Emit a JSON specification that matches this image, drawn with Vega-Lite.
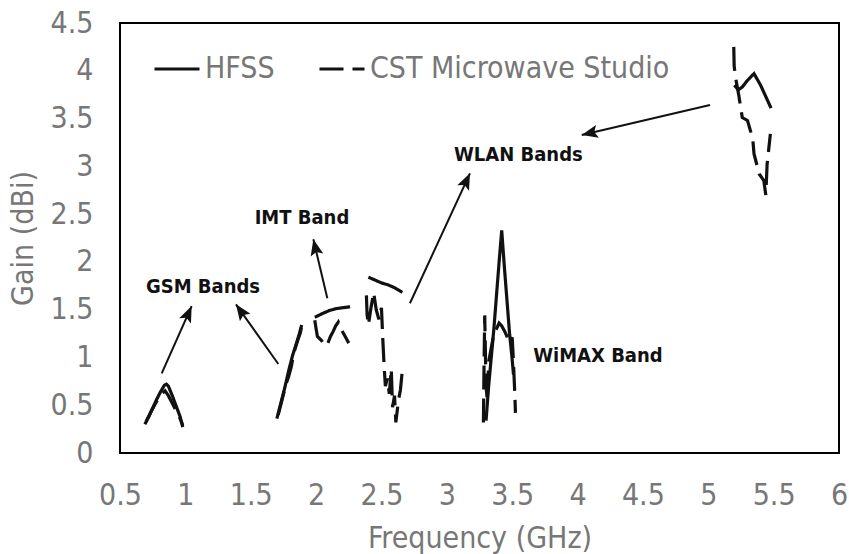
{
  "$schema": "https://vega.github.io/schema/vega-lite/v6.json",
  "width": 719,
  "height": 430,
  "autosize": {"type": "none"},
  "padding": {"left": 120, "top": 23, "right": 10, "bottom": 101},
  "background": "white",
  "config": {
    "view": {"stroke": "black", "strokeWidth": 2},
    "font": "DejaVu Sans",
    "axis": {
      "grid": false, "domain": false, "ticks": false,
      "labelFont": "DejaVu Sans Condensed, DejaVu Sans", "labelFontSize": 30, "labelColor": "#777777",
      "titleFont": "DejaVu Sans Condensed, DejaVu Sans", "titleFontSize": 30, "titleColor": "#777777", "titleFontWeight": "normal",
      "labelFlush": false, "labelOverlap": false, "labelBound": false
    },
    "legend": {
      "labelFont": "DejaVu Sans Condensed, DejaVu Sans", "labelFontSize": 30, "labelColor": "#777777", "labelLimit": 0
    }
  },
  "datasets": {
    "curves": [
      {"series":"HFSS","band":1,"freq":0.69,"gain":0.30},{"series":"HFSS","band":1,"freq":0.72,"gain":0.38},{"series":"HFSS","band":1,"freq":0.75,"gain":0.47},{"series":"HFSS","band":1,"freq":0.78,"gain":0.56},{"series":"HFSS","band":1,"freq":0.81,"gain":0.64},{"series":"HFSS","band":1,"freq":0.84,"gain":0.71},{"series":"HFSS","band":1,"freq":0.855,"gain":0.72},{"series":"HFSS","band":1,"freq":0.87,"gain":0.70},{"series":"HFSS","band":1,"freq":0.90,"gain":0.60},{"series":"HFSS","band":1,"freq":0.93,"gain":0.49},{"series":"HFSS","band":1,"freq":0.96,"gain":0.38},{"series":"HFSS","band":1,"freq":0.98,"gain":0.27},
      {"series":"HFSS","band":2,"freq":1.70,"gain":0.36},{"series":"HFSS","band":2,"freq":1.73,"gain":0.52},{"series":"HFSS","band":2,"freq":1.76,"gain":0.68},{"series":"HFSS","band":2,"freq":1.79,"gain":0.86},{"series":"HFSS","band":2,"freq":1.82,"gain":1.02},{"series":"HFSS","band":2,"freq":1.85,"gain":1.15},{"series":"HFSS","band":2,"freq":1.87,"gain":1.24},{"series":"HFSS","band":2,"freq":1.89,"gain":1.34},
      {"series":"HFSS","band":3,"freq":1.99,"gain":1.42},{"series":"HFSS","band":3,"freq":2.05,"gain":1.46},{"series":"HFSS","band":3,"freq":2.10,"gain":1.49},{"series":"HFSS","band":3,"freq":2.15,"gain":1.51},{"series":"HFSS","band":3,"freq":2.20,"gain":1.52},{"series":"HFSS","band":3,"freq":2.26,"gain":1.53},
      {"series":"HFSS","band":4,"freq":2.40,"gain":1.84},{"series":"HFSS","band":4,"freq":2.45,"gain":1.81},{"series":"HFSS","band":4,"freq":2.50,"gain":1.78},{"series":"HFSS","band":4,"freq":2.55,"gain":1.76},{"series":"HFSS","band":4,"freq":2.60,"gain":1.73},{"series":"HFSS","band":4,"freq":2.66,"gain":1.68},
      {"series":"HFSS","band":5,"freq":3.30,"gain":0.34},{"series":"HFSS","band":5,"freq":3.32,"gain":0.70},{"series":"HFSS","band":5,"freq":3.34,"gain":1.00},{"series":"HFSS","band":5,"freq":3.36,"gain":1.30},{"series":"HFSS","band":5,"freq":3.38,"gain":1.65},{"series":"HFSS","band":5,"freq":3.40,"gain":2.00},{"series":"HFSS","band":5,"freq":3.42,"gain":2.33},{"series":"HFSS","band":5,"freq":3.44,"gain":1.95},{"series":"HFSS","band":5,"freq":3.46,"gain":1.60},{"series":"HFSS","band":5,"freq":3.48,"gain":1.25},{"series":"HFSS","band":5,"freq":3.50,"gain":0.98},{"series":"HFSS","band":5,"freq":3.51,"gain":0.82},
      {"series":"HFSS","band":6,"freq":5.20,"gain":3.85},{"series":"HFSS","band":6,"freq":5.23,"gain":3.80},{"series":"HFSS","band":6,"freq":5.26,"gain":3.83},{"series":"HFSS","band":6,"freq":5.30,"gain":3.90},{"series":"HFSS","band":6,"freq":5.35,"gain":3.97},{"series":"HFSS","band":6,"freq":5.40,"gain":3.85},{"series":"HFSS","band":6,"freq":5.44,"gain":3.73},{"series":"HFSS","band":6,"freq":5.48,"gain":3.61},
      {"series":"CST Microwave Studio","band":1,"freq":0.70,"gain":0.33},{"series":"CST Microwave Studio","band":1,"freq":0.74,"gain":0.44},{"series":"CST Microwave Studio","band":1,"freq":0.78,"gain":0.54},{"series":"CST Microwave Studio","band":1,"freq":0.82,"gain":0.62},{"series":"CST Microwave Studio","band":1,"freq":0.845,"gain":0.65},{"series":"CST Microwave Studio","band":1,"freq":0.87,"gain":0.60},{"series":"CST Microwave Studio","band":1,"freq":0.90,"gain":0.52},{"series":"CST Microwave Studio","band":1,"freq":0.93,"gain":0.44},{"series":"CST Microwave Studio","band":1,"freq":0.96,"gain":0.36},{"series":"CST Microwave Studio","band":1,"freq":0.98,"gain":0.29},
      {"series":"CST Microwave Studio","band":2,"freq":1.71,"gain":0.40},{"series":"CST Microwave Studio","band":2,"freq":1.74,"gain":0.56},{"series":"CST Microwave Studio","band":2,"freq":1.77,"gain":0.72},{"series":"CST Microwave Studio","band":2,"freq":1.79,"gain":0.80},{"series":"CST Microwave Studio","band":2,"freq":1.81,"gain":0.90},{"series":"CST Microwave Studio","band":2,"freq":1.83,"gain":1.05},{"series":"CST Microwave Studio","band":2,"freq":1.86,"gain":1.18},{"series":"CST Microwave Studio","band":2,"freq":1.88,"gain":1.26},{"series":"CST Microwave Studio","band":2,"freq":1.895,"gain":1.36},
      {"series":"CST Microwave Studio","band":3,"freq":1.99,"gain":1.39},{"series":"CST Microwave Studio","band":3,"freq":2.00,"gain":1.30},{"series":"CST Microwave Studio","band":3,"freq":2.01,"gain":1.22},{"series":"CST Microwave Studio","band":3,"freq":2.04,"gain":1.18},{"series":"CST Microwave Studio","band":3,"freq":2.07,"gain":1.12},{"series":"CST Microwave Studio","band":3,"freq":2.09,"gain":1.15},{"series":"CST Microwave Studio","band":3,"freq":2.11,"gain":1.22},{"series":"CST Microwave Studio","band":3,"freq":2.13,"gain":1.27},{"series":"CST Microwave Studio","band":3,"freq":2.15,"gain":1.33},{"series":"CST Microwave Studio","band":3,"freq":2.17,"gain":1.37},{"series":"CST Microwave Studio","band":3,"freq":2.19,"gain":1.30},{"series":"CST Microwave Studio","band":3,"freq":2.21,"gain":1.25},{"series":"CST Microwave Studio","band":3,"freq":2.23,"gain":1.20},{"series":"CST Microwave Studio","band":3,"freq":2.25,"gain":1.15},
      {"series":"CST Microwave Studio","band":4,"freq":2.385,"gain":1.65},{"series":"CST Microwave Studio","band":4,"freq":2.39,"gain":1.45},{"series":"CST Microwave Studio","band":4,"freq":2.40,"gain":1.34},{"series":"CST Microwave Studio","band":4,"freq":2.42,"gain":1.52},{"series":"CST Microwave Studio","band":4,"freq":2.44,"gain":1.68},{"series":"CST Microwave Studio","band":4,"freq":2.46,"gain":1.50},{"series":"CST Microwave Studio","band":4,"freq":2.48,"gain":1.40},{"series":"CST Microwave Studio","band":4,"freq":2.50,"gain":1.52},{"series":"CST Microwave Studio","band":4,"freq":2.51,"gain":1.20},{"series":"CST Microwave Studio","band":4,"freq":2.52,"gain":0.92},{"series":"CST Microwave Studio","band":4,"freq":2.53,"gain":0.70},{"series":"CST Microwave Studio","band":4,"freq":2.545,"gain":0.78},{"series":"CST Microwave Studio","band":4,"freq":2.56,"gain":0.62},{"series":"CST Microwave Studio","band":4,"freq":2.575,"gain":0.88},{"series":"CST Microwave Studio","band":4,"freq":2.585,"gain":0.48},{"series":"CST Microwave Studio","band":4,"freq":2.60,"gain":0.60},{"series":"CST Microwave Studio","band":4,"freq":2.61,"gain":0.32},{"series":"CST Microwave Studio","band":4,"freq":2.63,"gain":0.55},{"series":"CST Microwave Studio","band":4,"freq":2.645,"gain":0.66},{"series":"CST Microwave Studio","band":4,"freq":2.66,"gain":0.87},
      {"series":"CST Microwave Studio","band":5,"freq":3.28,"gain":0.32},{"series":"CST Microwave Studio","band":5,"freq":3.285,"gain":0.95},{"series":"CST Microwave Studio","band":5,"freq":3.29,"gain":1.44},{"series":"CST Microwave Studio","band":5,"freq":3.30,"gain":0.70},{"series":"CST Microwave Studio","band":5,"freq":3.31,"gain":0.55},{"series":"CST Microwave Studio","band":5,"freq":3.32,"gain":0.95},{"series":"CST Microwave Studio","band":5,"freq":3.34,"gain":1.10},{"series":"CST Microwave Studio","band":5,"freq":3.36,"gain":1.25},{"series":"CST Microwave Studio","band":5,"freq":3.38,"gain":1.30},{"series":"CST Microwave Studio","band":5,"freq":3.40,"gain":1.36},{"series":"CST Microwave Studio","band":5,"freq":3.42,"gain":1.33},{"series":"CST Microwave Studio","band":5,"freq":3.44,"gain":1.28},{"series":"CST Microwave Studio","band":5,"freq":3.46,"gain":1.22},{"series":"CST Microwave Studio","band":5,"freq":3.48,"gain":1.15},{"series":"CST Microwave Studio","band":5,"freq":3.50,"gain":1.21},{"series":"CST Microwave Studio","band":5,"freq":3.51,"gain":0.95},{"series":"CST Microwave Studio","band":5,"freq":3.515,"gain":0.78},{"series":"CST Microwave Studio","band":5,"freq":3.52,"gain":0.62},{"series":"CST Microwave Studio","band":5,"freq":3.525,"gain":0.42},
      {"series":"CST Microwave Studio","band":6,"freq":5.195,"gain":4.25},{"series":"CST Microwave Studio","band":6,"freq":5.198,"gain":4.05},{"series":"CST Microwave Studio","band":6,"freq":5.21,"gain":3.92},{"series":"CST Microwave Studio","band":6,"freq":5.235,"gain":3.73},{"series":"CST Microwave Studio","band":6,"freq":5.26,"gain":3.51},{"series":"CST Microwave Studio","band":6,"freq":5.30,"gain":3.48},{"series":"CST Microwave Studio","band":6,"freq":5.34,"gain":3.29},{"series":"CST Microwave Studio","band":6,"freq":5.35,"gain":3.13},{"series":"CST Microwave Studio","band":6,"freq":5.39,"gain":2.92},{"series":"CST Microwave Studio","band":6,"freq":5.425,"gain":2.85},{"series":"CST Microwave Studio","band":6,"freq":5.44,"gain":2.70},{"series":"CST Microwave Studio","band":6,"freq":5.45,"gain":3.02},{"series":"CST Microwave Studio","band":6,"freq":5.475,"gain":3.34}
    ],
    "arrows": [
      {"freq":0.819,"gain":0.834,"freq2":1.048,"gain2":1.538,"heading":24},
      {"freq":1.711,"gain":0.931,"freq2":1.387,"gain2":1.556,"heading":-35},
      {"freq":2.086,"gain":1.619,"freq2":1.979,"gain2":2.236,"heading":-13},
      {"freq":2.718,"gain":1.567,"freq2":3.177,"gain2":2.927,"heading":25},
      {"freq":5.013,"gain":3.642,"freq2":4.032,"gain2":3.328,"heading":-103}
    ],
    "labels": [
      {"label":"GSM Bands","freq":1.135,"gain":1.737},
      {"label":"IMT Band","freq":1.892,"gain":2.459},
      {"label":"WLAN Bands","freq":3.547,"gain":3.118},
      {"label":"WiMAX Band","freq":4.156,"gain":1.015}
    ]
  },
  "layer": [
    {
      "data": {"name": "curves"},
      "mark": {"type": "line", "strokeWidth": 3.2, "color": "#111111", "strokeCap": "butt"},
      "encoding": {
        "x": {"field": "freq", "type": "quantitative", "title": "Frequency (GHz)",
              "scale": {"domain": [0.5, 6], "nice": false, "zero": false},
              "axis": {"values": [0.5,1,1.5,2,2.5,3,3.5,4,4.5,5,5.5,6], "format": "~g", "labelPadding": 27, "titlePadding": 13}},
        "y": {"field": "gain", "type": "quantitative", "title": "Gain (dBi)",
              "scale": {"domain": [0, 4.5], "nice": false},
              "axis": {"values": [0,0.5,1,1.5,2,2.5,3,3.5,4,4.5], "format": "~g", "labelPadding": 27, "titlePadding": 12}},
        "strokeDash": {"field": "series", "type": "nominal",
          "scale": {"domain": ["HFSS", "CST Microwave Studio"], "range": [[1, 0], [24, 9]]},
          "legend": {"title": null, "orient": "none", "legendX": 33, "legendY": 22, "direction": "horizontal",
                     "symbolType": "stroke", "symbolSize": 2025, "symbolStrokeWidth": 3, "symbolStrokeColor": "#111111",
                     "labelOffset": 4, "columnPadding": 38, "padding": 0}},
        "detail": {"field": "band", "type": "nominal"},
        "order": {"value": null}
      }
    },
    {
      "data": {"name": "arrows"},
      "mark": {"type": "rule", "strokeWidth": 2, "color": "#111111"},
      "encoding": {
        "x": {"field": "freq", "type": "quantitative", "title": "Frequency (GHz)"},
        "y": {"field": "gain", "type": "quantitative", "title": "Gain (dBi)"},
        "x2": {"field": "freq2"},
        "y2": {"field": "gain2"}
      }
    },
    {
      "data": {"name": "arrows"},
      "mark": {"type": "point", "shape": "M0,0L-0.8,2L0,1.6L0.8,2Z", "filled": true, "color": "#111111", "opacity": 1, "size": 260},
      "encoding": {
        "x": {"field": "freq2", "type": "quantitative", "title": "Frequency (GHz)"},
        "y": {"field": "gain2", "type": "quantitative", "title": "Gain (dBi)"},
        "angle": {"field": "heading", "type": "quantitative", "scale": null}
      }
    },
    {
      "data": {"name": "labels"},
      "mark": {"type": "text", "font": "DejaVu Sans Condensed, DejaVu Sans", "fontWeight": "bold", "fontSize": 20, "color": "#111111", "align": "center", "baseline": "middle"},
      "encoding": {
        "x": {"field": "freq", "type": "quantitative", "title": "Frequency (GHz)"},
        "y": {"field": "gain", "type": "quantitative", "title": "Gain (dBi)"},
        "text": {"field": "label", "type": "nominal"}
      }
    }
  ]
}
